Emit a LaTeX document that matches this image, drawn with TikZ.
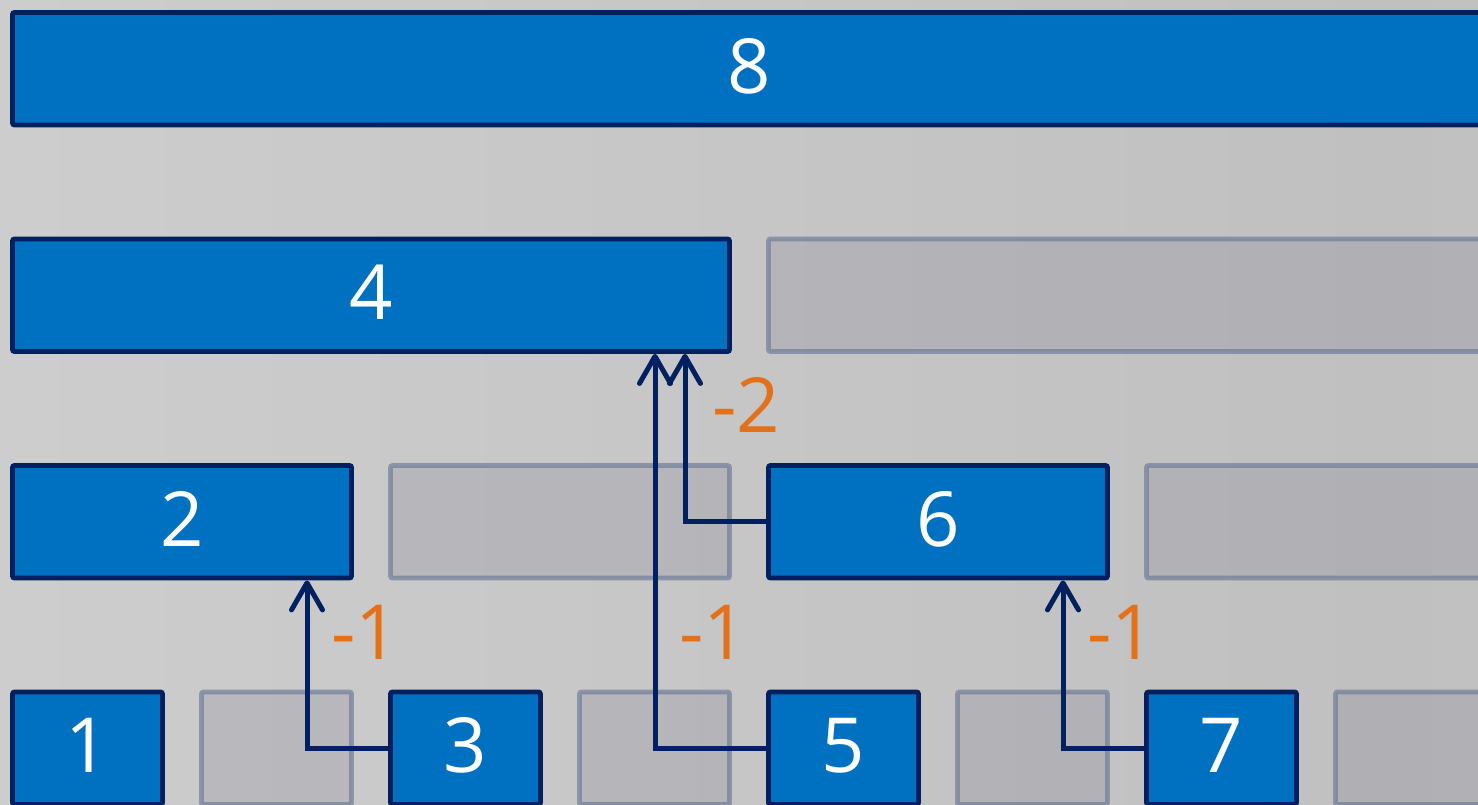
\documentclass[tikz,border=0pt]{standalone}
\usepackage{fontspec}
\setmainfont{Open Sans}
\usetikzlibrary{arrows.meta}
\definecolor{boxblue}{HTML}{0070C0}
\definecolor{navy}{HTML}{002060}
\definecolor{lbl}{HTML}{E2711A}
\definecolor{bgA}{HTML}{D4D4D4}
\definecolor{bgB}{HTML}{C0C0C0}
\definecolor{bgC}{HTML}{CACACA}
\definecolor{ghostfill}{RGB}{120,120,140}
\definecolor{ghostline}{RGB}{100,115,145}
\pgfdeclarehorizontalshading{bgshade}{100bp}{color(0bp)=(bgA); color(72bp)=(bgB); color(100bp)=(bgC)}
\begin{document}
\begin{tikzpicture}[x=1pt,y=-1pt,
  cell/.style={rectangle, rounded corners=2pt, minimum height=112.5pt, inner sep=0pt, line width=4.8pt},
  used/.style={cell, draw=navy, fill=boxblue, text=white, text depth=6pt, font=\fontsize{76}{80}\selectfont},
  ghost/.style={cell, draw=ghostline, draw opacity=0.6, fill=ghostfill, fill opacity=0.22},
  w0/.style={minimum width=150pt},
  w1/.style={minimum width=339pt},
  w2/.style={minimum width=717pt},
  w3/.style={minimum width=1473pt},
  arr/.style={draw=navy, line width=5pt, -{Straight Barb[length=27pt,width=31pt,round]}},
  lab/.style={text=lbl, font=\fontsize{76}{80}\selectfont, inner sep=0pt}]
\useasboundingbox (0,0) rectangle (1478,805);
\clip (0,0) rectangle (1478,805);
\shade[shading=bgshade] (0,0) rectangle (1478,805);
% level 3
\node[used,w3] (n8) at (749,68.75) {8};
% level 2
\node[used,w2] (n4) at (371,295.25) {4};
\node[ghost,w2] (g4) at (1127,295.25) {};
% level 1
\node[used,w1] (n2) at (182,521.75) {2};
\node[ghost,w1] (g2) at (560,521.75) {};
\node[used,w1] (n6) at (938,521.75) {6};
\node[ghost,w1] (g6) at (1316,521.75) {};
% level 0
\node[used,w0] (n1) at (87.5,748.25) {1};
\node[ghost,w0] (g1) at (276.5,748.25) {};
\node[used,w0] (n3) at (465.5,748.25) {3};
\node[ghost,w0] (g3) at (654.5,748.25) {};
\node[used,w0] (n5) at (843.5,748.25) {5};
\node[ghost,w0] (g5) at (1032.5,748.25) {};
\node[used,w0] (n7) at (1221.5,748.25) {7};
\node[ghost,w0] (g7) at (1410.5,748.25) {};
% arrows
\coordinate (t3) at ([xshift=125pt]n2.south);
\coordinate (t5) at ([xshift=284pt]n4.south);
\coordinate (t6) at ([xshift=314pt]n4.south);
\coordinate (t7) at ([xshift=125pt]n6.south);
\draw[arr] (n3.west) -| (t3);
\draw[arr] (n5.west) -| (t5);
\draw[arr] (n6.west) -| (t6);
\draw[arr] (n7.west) -| (t7);
% labels
\node[lab] (l3) at (365,632) {-1};
\node[lab] (l5) at (713,632) {-1};
\node[lab] (l7) at (1121,632) {-1};
\node[lab] (l6) at (746,405) {-2};
\end{tikzpicture}
\end{document}
